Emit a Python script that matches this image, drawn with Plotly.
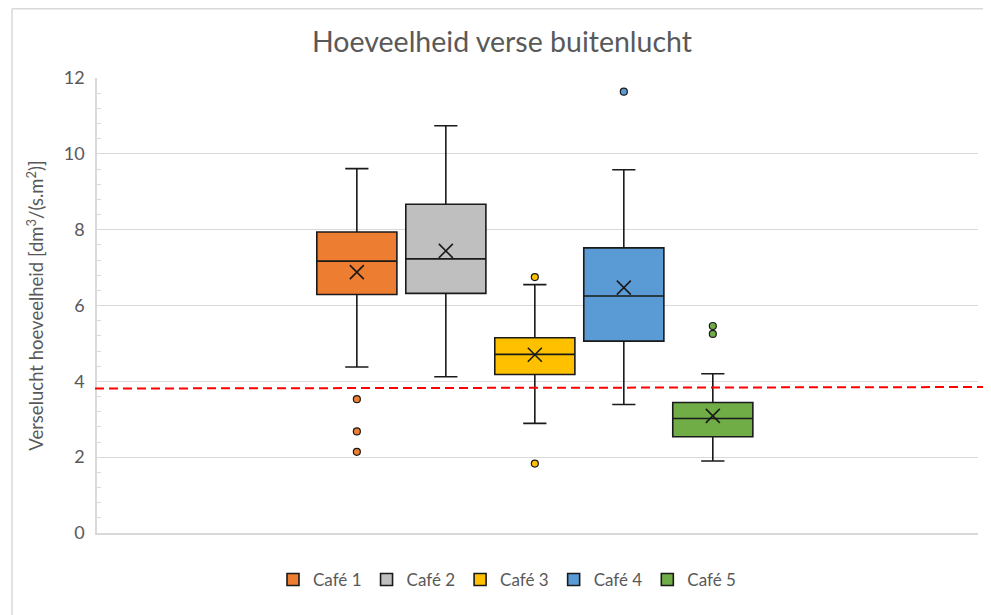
import plotly.graph_objects as go

# ---- data ----
cafes = ["Café 1", "Café 2", "Café 3", "Café 4", "Café 5"]
colors = ["#ED7D31", "#BFBFBF", "#FFC000", "#5B9BD5", "#70AD47"]
q1 = [6.29, 6.32, 4.18, 5.06, 2.54]
median = [7.17, 7.23, 4.71, 6.25, 3.02]
q3 = [7.94, 8.67, 5.15, 7.52, 3.44]
lower_whisker = [4.38, 4.12, 2.89, 3.39, 1.90]
upper_whisker = [9.61, 10.74, 6.55, 9.58, 4.20]
mean = [6.88, 7.44, 4.70, 6.47, 3.09]
outliers = [[3.53, 2.68, 2.14], [], [6.75, 1.83], [11.64], [5.46, 5.25]]
threshold = [3.81, 3.85]  # red dashed reference line (left, right)
y_ticks = [0, 2, 4, 6, 8, 10, 12]

fig = go.Figure()
for i, name in enumerate(cafes):
    fig.add_trace(go.Box(
        x=[i], name=name,
        q1=[q1[i]], median=[median[i]], q3=[q3[i]],
        lowerfence=[lower_whisker[i]], upperfence=[upper_whisker[i]],
        fillcolor=colors[i], line=dict(color="#1a1a1a", width=1.6),
        width=0.9, whiskerwidth=0.29, boxpoints=False,
        hoverinfo="skip",
    ))
for i, name in enumerate(cafes):
    if outliers[i]:
        fig.add_trace(go.Scatter(
            x=[i] * len(outliers[i]), y=outliers[i], mode="markers",
            marker=dict(symbol="circle", size=7, color=colors[i],
                        line=dict(color="#1a1a1a", width=1.2)),
            showlegend=False, hoverinfo="skip"))
fig.add_trace(go.Scatter(
    x=list(range(len(cafes))), y=mean, mode="markers",
    marker=dict(symbol="x-thin", size=14, line=dict(color="#1a1a1a", width=1.6)),
    showlegend=False, hoverinfo="skip"))

# figure geometry (page has an 8px body margin)
OFF = 8
W, H = 991 - OFF, 615 - OFF
L, R, T, B = 97 - OFF, 13, 78 - OFF, 82
pw, ph = W - L - R, H - T - B

fig.add_shape(type="line", xref="paper", yref="y",
              x0=(95 - OFF - L) / pw, x1=(990 - OFF - L) / pw,
              y0=threshold[0], y1=threshold[1],
              line=dict(color="#FF0000", width=2, dash="9px,5px"), layer="above")
# chart-area border (top and left)
top_p = (H - B - 0.8) / ph
left_p = (12 - OFF - L) / pw
fig.add_shape(type="line", xref="paper", yref="paper", x0=left_p, x1=1.2,
              y0=top_p, y1=top_p, line=dict(color="#D9D9D9", width=1.5))
fig.add_shape(type="line", xref="paper", yref="paper", x0=left_p, x1=left_p,
              y0=top_p, y1=-0.3, line=dict(color="#D9D9D9", width=1.5))

fig.update_layout(
    width=W, height=H,
    margin=dict(l=L, r=R, t=T, b=B, autoexpand=False),
    paper_bgcolor="white", plot_bgcolor="white",
    title=dict(text="Hoeveelheid verse buitenlucht", x=(502 - OFF) / W, xref="container",
               y=1 - (42 - OFF) / H, yref="container", yanchor="middle", xanchor="center",
               font=dict(family="Lato", size=28.5, color="#595959")),
    font=dict(family="Lato", color="#595959"),
    showlegend=True,
    legend=dict(orientation="h", x=(507 - OFF) / W, xref="container", xanchor="center",
                y=1 - (580 - OFF) / H, yref="container", yanchor="middle",
                font=dict(size=17, color="#595959"), itemwidth=30,
                traceorder="normal"),
    xaxis=dict(range=[-2.92, 6.98], showgrid=False, zeroline=False,
               showticklabels=False, showline=True, linecolor="#D9D9D9",
               linewidth=1.5, ticks="", automargin=False),
    yaxis=dict(range=[0, 12], tickvals=y_ticks, showgrid=True, automargin=False,
               gridcolor="#D9D9D9", gridwidth=1.3, zeroline=False,
               showline=True, linecolor="#D9D9D9", linewidth=1.5,
               ticks="inside", ticklen=0, ticklabelstandoff=7,
               minor=dict(dtick=0.4, ticks="inside", ticklen=4,
                          tickcolor="#D9D9D9", showgrid=False),
               tickfont=dict(size=18, color="#595959"),
               title=dict(text="Verselucht hoeveelheid [dm<sup>3</sup>/(s.m<sup>2</sup>)]",
                          font=dict(size=18.5, color="#595959"), standoff=15)),
)
fig.write_html("out.html")
